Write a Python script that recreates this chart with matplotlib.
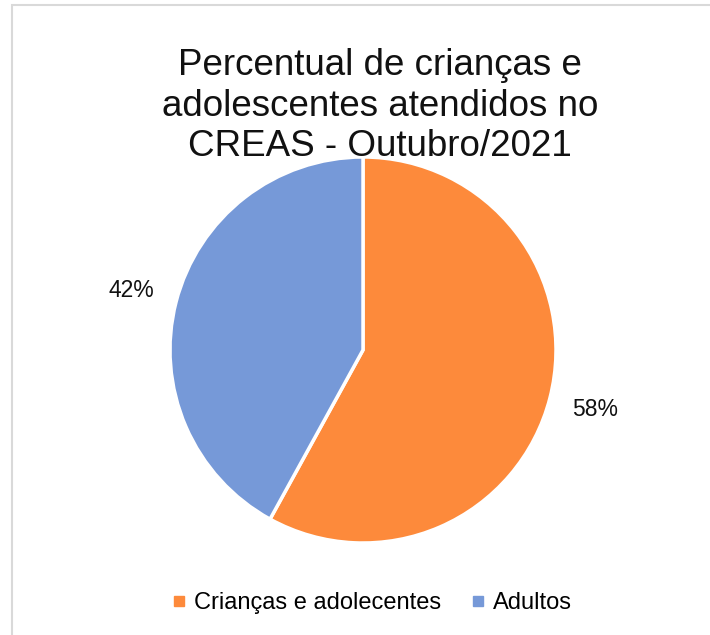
import matplotlib
matplotlib.use("Agg")
import matplotlib.pyplot as plt
from matplotlib.lines import Line2D
from matplotlib.patches import Rectangle

plt.rcParams['font.family'] = ['Liberation Sans', 'DejaVu Sans']

# dados
categorias = ['Crianças e adolecentes', 'Adultos']
percentuais = [58, 42]
cores = ['#fd8a3b', '#7699d8']
titulo = 'Percentual de crianças e\nadolescentes atendidos no\nCREAS - Outubro/2021'

fig = plt.figure(figsize=(7.10, 6.35), dpi=100)

# borda cinza do gráfico
fig.patches.append(Rectangle((12 / 710, -0.1), 1.2, 1 - 5 / 635 + 0.1,
                             transform=fig.transFigure, fill=False,
                             edgecolor='#d9d9d9', linewidth=1.5))

ax = fig.add_axes([170 / 710, (635 - 543) / 635, 386 / 710, 386 / 635])
ax.pie(percentuais, colors=cores, startangle=90, counterclock=False,
       autopct='%1.0f%%', pctdistance=1.24,
       wedgeprops=dict(edgecolor='white', linewidth=2.5),
       textprops=dict(fontsize=16.5, color='#111111'))
ax.set_xlim(-1, 1)
ax.set_ylim(-1, 1)
ax.set_aspect('equal')

fig.text(380 / 710, 1 - 106 / 635, titulo, ha='center', va='center',
         fontsize=26.5, color='#111111', linespacing=1.2)

handles = [Line2D([], [], marker='s', linestyle='none', markersize=7,
                  markerfacecolor=c, markeredgecolor=c) for c in cores]
fig.legend(handles, categorias, loc='center', bbox_to_anchor=(372 / 710, 1 - 603 / 635),
           ncol=2, frameon=False, fontsize=17, handlelength=0.6,
           handletextpad=0.3, columnspacing=1.3)

fig.savefig('out.png', dpi=100, facecolor='white')
